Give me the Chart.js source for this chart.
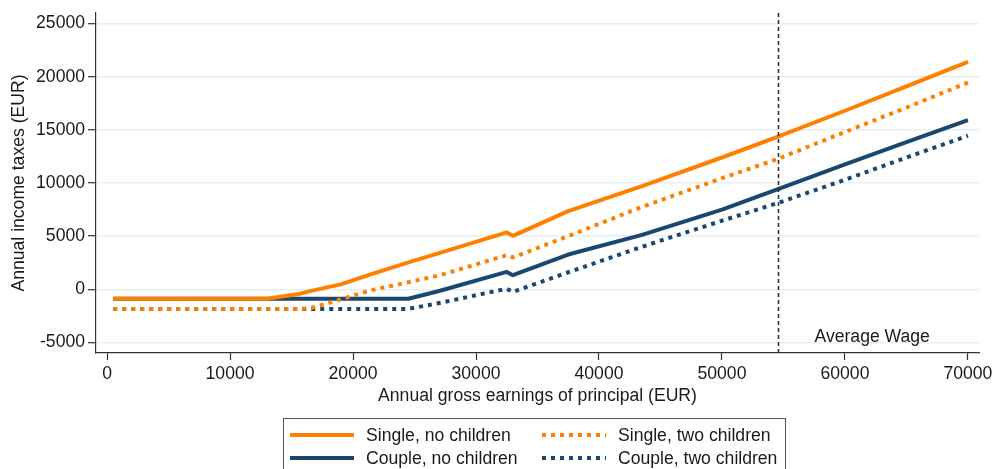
<!DOCTYPE html>
<html>
<head>
<meta charset="utf-8">
<script src="https://cdn.jsdelivr.net/npm/chart.js@4.4.1/dist/chart.umd.min.js"></script>
<style>
  body { margin: 0; background: #fff; }
  #wrap { position: relative; width: 993px; height: 469px; }
</style>
</head>
<body>
<div id="wrap"><canvas id="taxChart"></canvas></div>
<script>
// annual gross earnings of principal (EUR)
const earnings = [500, 13000, 15500, 16500, 19000, 21500, 24500, 27000, 32500, 33000, 37500, 43500, 50000, 54500, 60000, 65000, 70000];

// annual income taxes (EUR) per household type
const singleNoChildren = [-900, -900, -480, -180, 460, 1420, 2530, 3400, 5350, 5030, 7350, 9700, 12400, 14350, 16800, 19100, 21400];
const singleTwoChildren = [-1850, -1850, -1850, -1800, -950, -80, 660, 1300, 3200, 2990, 5000, 7750, 10450, 12250, 14800, 17100, 19450];
const coupleNoChildren = [-900, -900, -900, -900, -900, -900, -900, -160, 1630, 1320, 3270, 5120, 7500, 9400, 11750, 13850, 15920];
const coupleTwoChildren = [-1850, -1850, -1850, -1850, -1850, -1850, -1850, -1300, 50, -250, 1600, 4000, 6450, 8100, 10300, 12400, 14450];

const xTicks = [0, 10000, 20000, 30000, 40000, 50000, 60000, 70000];
const yTicks = [-5000, 0, 5000, 10000, 15000, 20000, 25000];
const averageWage = 54550;

const orange = "#ff8000";
const navy = "#1a476f";
const fontFamily = "'Liberation Sans', Arial, sans-serif";
const fontSize = 17.6;
const textColor = "#1a1a1a";

function toPoints(values) {
  return values.map((v, i) => ({ x: earnings[i], y: v }));
}

// vertical dashed marker for the average wage
const averageWageLine = {
  id: "averageWageLine",
  afterDatasetsDraw(chart) {
    const { ctx, chartArea, scales } = chart;
    const x = Math.round(scales.x.getPixelForValue(averageWage)) + 0.5;
    ctx.save();
    ctx.strokeStyle = "#333";
    ctx.lineWidth = 1.6;
    ctx.setLineDash([4, 3]);
    ctx.beginPath();
    ctx.moveTo(x, chartArea.top);
    ctx.lineTo(x, chartArea.bottom);
    ctx.stroke();
    ctx.setLineDash([]);
    ctx.fillStyle = textColor;
    ctx.font = fontSize + "px " + fontFamily;
    ctx.textBaseline = "middle";
    ctx.fillText("Average Wage", x + 36, chartArea.bottom - 16);
    ctx.restore();
  },
};

// boxed two-column legend under the axis title
const boxLegend = {
  id: "boxLegend",
  afterDraw(chart) {
    const ctx = chart.ctx;
    const cols = [290, 542];
    const rows = [435, 458];
    ctx.save();
    ctx.strokeStyle = "#555";
    ctx.lineWidth = 1;
    ctx.strokeRect(283.5, 418.5, 502, 70);
    chart.data.datasets.forEach((ds, i) => {
      const x = cols[i % 2];
      const y = rows[Math.floor(i / 2)];
      ctx.beginPath();
      ctx.setLineDash(ds.borderDash || []);
      ctx.strokeStyle = ds.borderColor;
      ctx.lineWidth = ds.borderWidth;
      ctx.moveTo(x, y);
      ctx.lineTo(x + 64, y);
      ctx.stroke();
      ctx.setLineDash([]);
      ctx.fillStyle = textColor;
      ctx.font = fontSize + "px " + fontFamily;
      ctx.textBaseline = "middle";
      ctx.fillText(ds.label, x + 76, y + 1);
    });
    ctx.restore();
  },
};

const ctx = document.getElementById("taxChart").getContext("2d");

new Chart(ctx, {
  type: "line",
  data: {
    datasets: [
      {
        label: "Single, no children",
        data: toPoints(singleNoChildren),
        borderColor: orange,
        borderWidth: 4,
      },
      {
        label: "Single, two children",
        data: toPoints(singleTwoChildren),
        borderColor: orange,
        borderWidth: 4,
        borderDash: [4, 5],
      },
      {
        label: "Couple, no children",
        data: toPoints(coupleNoChildren),
        borderColor: navy,
        borderWidth: 4,
      },
      {
        label: "Couple, two children",
        data: toPoints(coupleTwoChildren),
        borderColor: navy,
        borderWidth: 4,
        borderDash: [4, 5],
      },
    ],
  },
  options: {
    responsive: true,
    maintainAspectRatio: false,
    animation: false,
    layout: {
      padding: { top: 13, right: 14, bottom: 56, left: 0 },
    },
    elements: {
      point: { radius: 0 },
      line: { tension: 0, borderCapStyle: "butt", borderJoinStyle: "round" },
    },
    plugins: {
      legend: { display: false },
      tooltip: { enabled: false },
    },
    scales: {
      x: {
        type: "linear",
        min: -900,
        max: 70900,
        afterBuildTicks: (scale) => {
          scale.ticks = xTicks.map((v) => ({ value: v }));
        },
        afterFit: (scale) => {
          scale.height = 60;
          // keep the "70000" label from shrinking the plot area
          scale.paddingLeft = 0;
          scale.paddingRight = 0;
        },
        grid: {
          drawOnChartArea: false,
          tickLength: 7,
          tickColor: "#333",
          tickWidth: 1.2,
        },
        border: { color: "#333", width: 1.2 },
        ticks: {
          padding: 4,
          color: textColor,
          font: { family: fontFamily, size: fontSize },
          maxRotation: 0,
          callback: (v) => String(v),
        },
        title: {
          display: true,
          text: "Annual gross earnings of principal (EUR)",
          color: textColor,
          font: { family: fontFamily, size: fontSize },
          padding: { top: 0, bottom: 6 },
        },
      },
      y: {
        type: "linear",
        min: -6000,
        max: 26000,
        afterBuildTicks: (scale) => {
          scale.ticks = yTicks.map((v) => ({ value: v }));
        },
        afterFit: (scale) => {
          scale.width = 96;
          scale.paddingTop = 0;
          scale.paddingBottom = 0;
        },
        grid: {
          color: "#e8eff1",
          lineWidth: 1.4,
          tickLength: 8,
          tickColor: "#333",
          tickWidth: 1.2,
        },
        border: { color: "#333", width: 1.2 },
        ticks: {
          padding: 3,
          color: textColor,
          font: { family: fontFamily, size: fontSize },
          callback: (v) => String(v),
        },
        title: {
          display: true,
          text: "Annual income taxes (EUR)",
          color: textColor,
          font: { family: fontFamily, size: fontSize },
          padding: { top: 9, bottom: 0 },
        },
      },
    },
  },
  plugins: [averageWageLine, boxLegend],
});
</script>
</body>
</html>
